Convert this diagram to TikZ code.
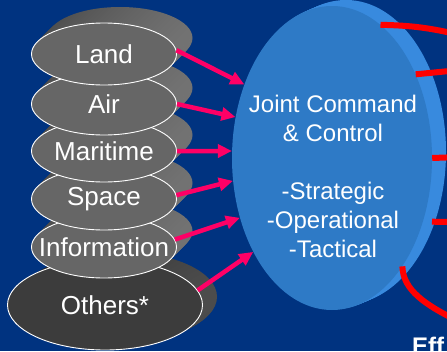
\documentclass[tikz,border=0pt]{standalone}
\usepackage{fontspec}
\setmainfont{Liberation Sans}
\usetikzlibrary{shapes.geometric,arrows.meta}
\definecolor{slidebg}{RGB}{0,51,128}
\definecolor{stackgray}{RGB}{102,102,102}
\definecolor{othersgray}{RGB}{60,60,60}
\definecolor{jccfront}{RGB}{46,122,198}
\definecolor{jccback}{RGB}{56,138,222}
\definecolor{feedpink}{RGB}{255,0,102}
\definecolor{effred}{RGB}{255,0,0}
\newcommand\stacklabel[1]{\hbox to 0pt{\hss#1\hss}}
\tikzset{
  stack/.style={ellipse, draw=white, line width=0.9pt, fill=stackgray, text=white, inner sep=0pt,
    minimum width=145pt, minimum height=62pt, font=\fontsize{26}{30}\selectfont},
  feed/.style={draw=feedpink, line width=4.5pt, -{Triangle[length=14pt,width=13pt]}},
  effect/.style={draw=effred, line width=6pt},
}
\begin{document}
\begin{tikzpicture}[x=1pt, y=-1pt]
  \useasboundingbox (0,0) rectangle (447,351);
  \clip (0,0) rectangle (447,351);
  \fill[slidebg] (0,0) rectangle (447,351);
  % big ellipse with its extrusion
  \foreach \k in {14,12,...,2}
    \fill[jccback] (332+\k,158-0.43*\k) ellipse [x radius=100pt, y radius=152pt];
  \node[ellipse, fill=jccfront, inner sep=0pt, minimum width=200pt, minimum height=304pt] (jcc) at (332,158) {};
  \node[text=white, align=center, font=\fontsize{24}{29}\selectfont] (jcctext) at (333,176)
    {Joint Command\\\& Control\\[29pt]-Strategic\\-Operational\\-Tactical};
  % others
  \foreach \k in {15,14,...,1}
    \shade[left color=black!85!white, right color=black!70!white]
      (105+\k,305-0.55*\k) ellipse [x radius=97pt, y radius=45pt];
  \node[stack, fill=othersgray, minimum width=195pt, minimum height=90pt] (others) at (105,305) {\stacklabel{Others*}};
  % stack of domains, bottom first
  \foreach \name/\txt/\y in {info/Information/247, space/Space/199, maritime/Maritime/151, air/Air/104, land/Land/54} {
    \foreach \k in {16,15,...,1}
      \shade[left color=black!70!white, right color=black!55!white]
        (104+\k,\y-\k) ellipse [x radius=72.5pt, y radius=31pt];
    \node[stack] (\name) at (104,\y) {\stacklabel{\txt}};
  }
  % arrows into command and control
  \draw[feed] (land.3) -- (jcc.140);
  \draw[feed] (air.east) -- (jcc.157);
  \draw[feed] (maritime.east) -- (jcc.176);
  \draw[feed] (space.3) -- (jcc.193);
  \draw[feed] (info.6) -- (jcc.213);
  \draw[feed] (others.9) -- (jcc.230);
  % lines out to the effects
  \coordinate (e1) at (460,35);
  \coordinate (e2) at (460,70);
  \coordinate (e3) at (460,157);
  \coordinate (e4) at (460,222);
  \coordinate (e5) at (460,322);
  \draw[effect] (jcc.70) to[bend left=6] (e1);
  \draw[effect] (jcc.45) -- (e2);
  \draw[effect] (jcc.east) -- (e3);
  \draw[effect] ([xshift=9pt]jcc.-35) -- (e4);
  \draw[effect] (jcc.-57) .. controls (403,290) and (425,305) .. (e5);
  \node[anchor=base west, text=white, inner sep=0pt, font=\fontsize{24}{29}\selectfont\bfseries] (eff) at (412,354) {Eff};
\end{tikzpicture}
\end{document}
